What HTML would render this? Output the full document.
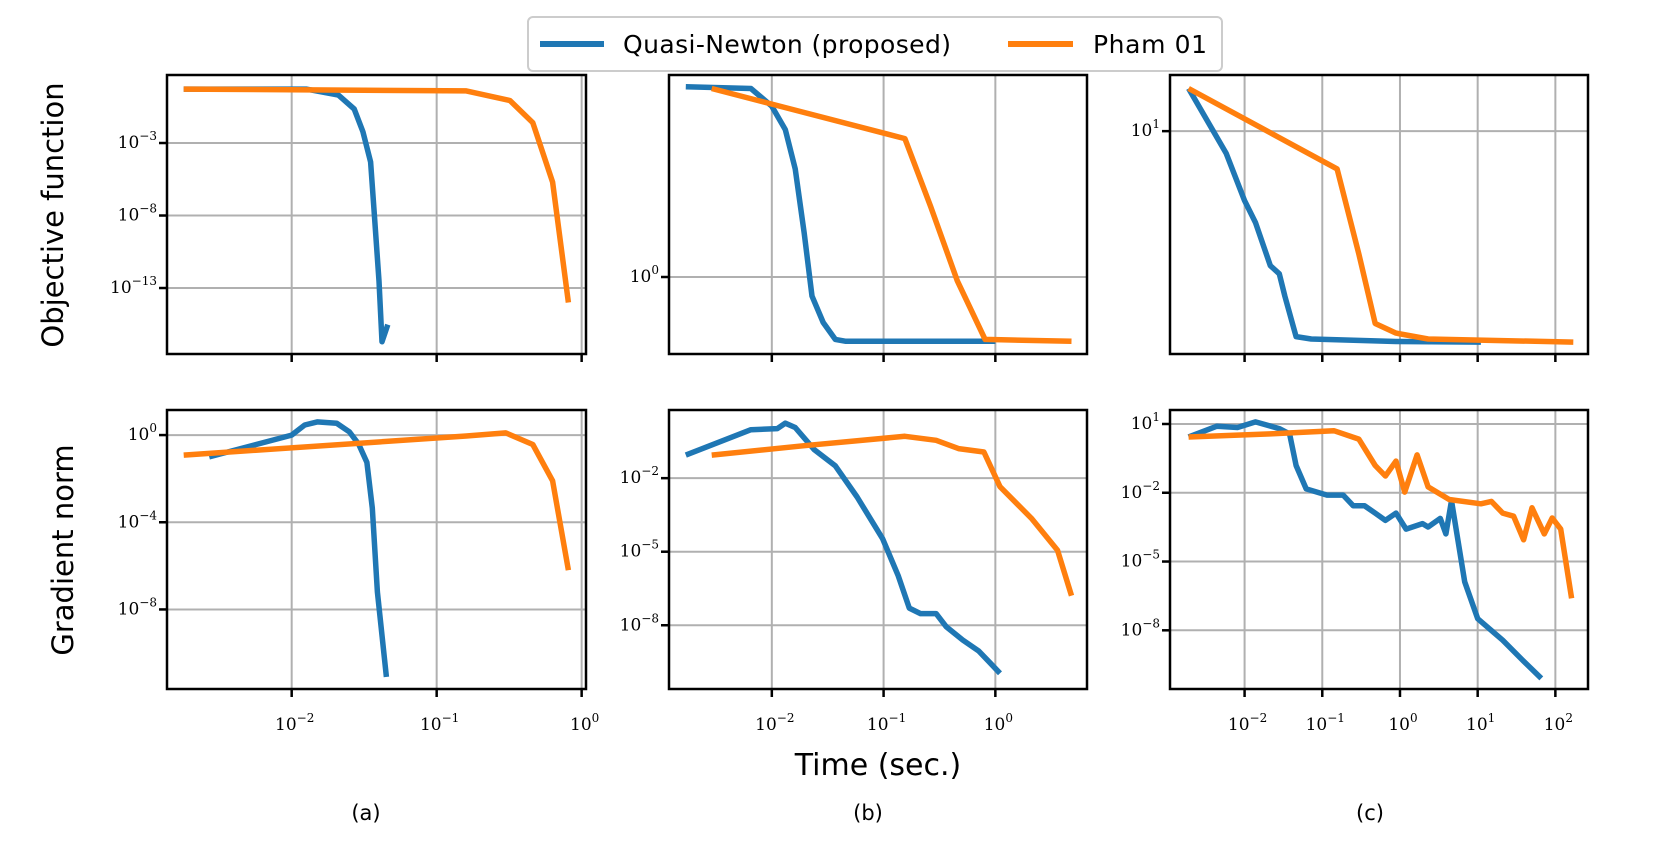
<!DOCTYPE html>
<html><head><meta charset="utf-8">
<style>
html,body{margin:0;padding:0;background:#fff;}
svg{display:block;}
.tk{font-family:"DejaVu Serif","Liberation Serif",serif;font-size:17px;fill:#000;}
.lab{font-family:"DejaVu Sans","Liberation Sans",sans-serif;fill:#000;}
</style></head>
<body>
<svg id="fig" width="1658" height="844" viewBox="0 0 1658 844" xmlns="http://www.w3.org/2000/svg">
<g>
<rect x="528" y="17" width="694" height="54" rx="5" fill="#fff" stroke="#cccccc" stroke-width="2"/>
<line x1="540" y1="44" x2="604" y2="44" stroke="#1f77b4" stroke-width="6"/>
<text class="lab" x="623" y="53" font-size="25" textLength="328">Quasi-Newton (proposed)</text>
<line x1="1008" y1="44" x2="1073" y2="44" stroke="#ff7f0e" stroke-width="6"/>
<text class="lab" x="1093" y="53" font-size="25" textLength="114">Pham 01</text>
</g>
<text class="lab" font-size="29" text-anchor="middle" transform="translate(63,215) rotate(-90)">Objective function</text>
<text class="lab" font-size="29" text-anchor="middle" transform="translate(73,550) rotate(-90)">Gradient norm</text>
<text class="lab" font-size="30" text-anchor="middle" x="878" y="775">Time (sec.)</text>
<text class="lab" font-size="21" text-anchor="middle" x="366" y="820">(a)</text>
<text class="lab" font-size="21" text-anchor="middle" x="868" y="820">(b)</text>
<text class="lab" font-size="21" text-anchor="middle" x="1370" y="820">(c)</text>
</svg>
<script>
// ---- data (time in sec., values) ----
const aTopBlueT = [0.0018,0.0126,0.021,0.027,0.031,0.035,0.037,0.040,0.042,0.046];
const aTopBlueV = [5.2,5.2,2,0.22,6e-3,5e-5,2e-8,3e-13,2e-17,3e-16];
const aTopOrT = [0.0018,0.16,0.32,0.46,0.63,0.81];
const aTopOrV = [5.2,3.9,0.85,0.025,2e-6,1e-14];
const aBotBlueT = [0.0027,0.010,0.0123,0.015,0.0204,0.025,0.029,0.033,0.036,0.039,0.045];
const aBotBlueV = [0.1,1,2.9,4,3.5,1.4,0.38,0.056,4.5e-4,6.3e-8,8e-12];
const aBotOrT = [0.0018,0.16,0.30,0.46,0.63,0.81];
const aBotOrV = [0.12,0.91,1.26,0.37,8e-3,6.3e-7];
const bTopBlueT = [0.0017,0.0065,0.010,0.0132,0.0162,0.0195,0.0229,0.0288,0.037,0.046,1.0];
const bTopBlueV = [117,112,72,40,15,3,0.62,0.32,0.21,0.2,0.2];
const bTopOrT = [0.0029,0.155,0.263,0.457,0.81,4.8];
const bTopOrV = [112,32,5.9,0.91,0.21,0.2];
const bBotBlueT = [0.0017,0.0065,0.0112,0.0132,0.0162,0.024,0.037,0.058,0.098,0.135,0.17,0.214,0.295,0.363,0.51,0.71,0.87,1.1];
const bBotBlueV = [0.087,0.95,1.05,1.74,1.17,0.145,0.032,1.7e-3,3.4e-5,1.05e-6,5e-8,3e-8,3e-8,8.7e-9,2.5e-9,8.9e-10,3.4e-10,1.1e-10];
const bBotOrT = [0.0029,0.0195,0.155,0.295,0.468,0.79,1.1,2.1,3.6,4.8];
const bBotOrV = [0.087,0.21,0.51,0.35,0.16,0.117,4.5e-3,2.3e-4,1.15e-5,1.6e-7];
const cTopBlueT = [0.0019,0.0058,0.010,0.0138,0.0214,0.028,0.033,0.046,0.072,0.89,11];
const cTopBlueV = [17.8,7.4,3.9,2.9,1.62,1.45,1.07,0.62,0.6,0.58,0.575];
const cTopOrT = [0.0019,0.155,0.295,0.48,0.89,2.3,170];
const cTopOrV = [17.8,6,1.9,0.74,0.65,0.6,0.575];
const cBotBlueT = [0.0019,0.0044,0.0081,0.0138,0.028,0.038,0.046,0.062,0.115,0.186,0.25,0.35,0.48,0.65,0.89,1.2,1.95,2.3,3.3,3.9,4.6,6.8,10,21,39,66];
const cBotBlueV = [2.7,8,7,12.3,6.3,3.7,0.155,0.0148,0.0079,0.0079,2.7e-3,2.7e-3,1.3e-3,6.2e-4,1.3e-3,2.6e-4,4.5e-4,3.2e-4,7.6e-4,1.6e-4,4.5e-3,1.3e-6,3.2e-8,3.7e-9,4.5e-10,8e-11];
const cBotOrT = [0.0019,0.0214,0.141,0.295,0.48,0.65,0.89,1.15,1.66,2.3,4.3,11,15,21,29,39,50,72,91,117,162];
const cBotOrV = [2.7,3.7,5.1,2.2,0.155,0.054,0.24,0.0107,0.45,0.018,5.1e-3,3.3e-3,4.2e-3,1.3e-3,9.5e-4,8.9e-5,2.2e-3,1.6e-4,7.9e-4,2.6e-4,2.5e-7];
const aXTicks = [-2,-1,0];
const bXTicks = [-2,-1,0];
const cXTicks = [-2,-1,0,1,2];
const aTopYTicks = [-3,-8,-13];
const aBotYTicks = [0,-4,-8];
const bTopYTicks = [0];
const bBotYTicks = [-2,-5,-8];
const cTopYTicks = [1];
const cBotYTicks = [1,-2,-5,-8];

const NS = "http://www.w3.org/2000/svg";
const svg = document.getElementById('fig');
function mk(tag, attrs, parent){
  const e = document.createElementNS(NS, tag);
  for (const k in attrs) e.setAttribute(k, attrs[k]);
  (parent||svg).appendChild(e); return e;
}
const COLS = [[167,586],[669,1087],[1170,1588]];
const ROWS = [[75,354],[410,689]];
const panels = [
 {id:'a-top', c:0, r:0, x:[-2.86,0.03], y:[-17.55,1.69], xt:aXTicks, yt:aTopYTicks, xl:false, s:[[aTopBlueT,aTopBlueV,'#1f77b4','quasi-newton'],[aTopOrT,aTopOrV,'#ff7f0e','pham01']]},
 {id:'a-bottom', c:0, r:1, x:[-2.86,0.03], y:[-11.65,1.15], xt:aXTicks, yt:aBotYTicks, xl:true, s:[[aBotBlueT,aBotBlueV,'#1f77b4','quasi-newton'],[aBotOrT,aBotOrV,'#ff7f0e','pham01']]},
 {id:'b-top', c:1, r:0, x:[-2.92,0.82], y:[-0.837,2.196], xt:bXTicks, yt:bTopYTicks, xl:false, s:[[bTopBlueT,bTopBlueV,'#1f77b4','quasi-newton'],[bTopOrT,bTopOrV,'#ff7f0e','pham01']]},
 {id:'b-bottom', c:1, r:1, x:[-2.92,0.82], y:[-10.6,0.78], xt:bXTicks, yt:bBotYTicks, xl:true, s:[[bBotBlueT,bBotBlueV,'#1f77b4','quasi-newton'],[bBotOrT,bBotOrV,'#ff7f0e','pham01']]},
 {id:'c-top', c:2, r:0, x:[-2.96,2.42], y:[-0.31,1.33], xt:cXTicks, yt:cTopYTicks, xl:false, s:[[cTopBlueT,cTopBlueV,'#1f77b4','quasi-newton'],[cTopOrT,cTopOrV,'#ff7f0e','pham01']]},
 {id:'c-bottom', c:2, r:1, x:[-2.96,2.42], y:[-10.56,1.61], xt:cXTicks, yt:cBotYTicks, xl:true, s:[[cBotBlueT,cBotBlueV,'#1f77b4','quasi-newton'],[cBotOrT,cBotOrV,'#ff7f0e','pham01']]}
];
function pow10Label(g, x, y, e, anchor){
  const t = mk('text', {class:'tk', x:x, y:y, 'text-anchor':anchor}, g);
  const a = document.createElementNS(NS,'tspan'); a.textContent='10'; t.appendChild(a);
  const b = document.createElementNS(NS,'tspan');
  b.setAttribute('dy','-8'); b.setAttribute('font-size','12');
  b.textContent = (e<0?'\u2212':'') + Math.abs(e); t.appendChild(b);
  return t;
}
panels.forEach(p=>{
  const [L,R] = COLS[p.c], [T,B] = ROWS[p.r];
  const sx = v => L + (Math.log10(v)-p.x[0])/(p.x[1]-p.x[0])*(R-L);
  const sy = v => B - (Math.log10(v)-p.y[0])/(p.y[1]-p.y[0])*(B-T);
  const g = mk('g', {});
  
  
  const grid = mk('g', {}, g);
  
  
  p.xt.forEach(e=>{
    const x = sx(Math.pow(10,e));
    mk('line', {x1:x, x2:x, y1:T, y2:B, stroke:'#b0b0b0', 'stroke-width':2}, grid);
    const tk = mk('line', {x1:x, x2:x, y1:B, y2:B+8, stroke:'#000', 'stroke-width':2.5}, g);
    
    
    if (p.xl){
      const lb = pow10Label(g, x+3, 730, e, 'middle');
      
      
    }
  });
  p.yt.forEach(e=>{
    const y = sy(Math.pow(10,e));
    mk('line', {x1:L, x2:R, y1:y, y2:y, stroke:'#b0b0b0', 'stroke-width':2}, grid);
    const tk = mk('line', {x1:L-8, x2:L, y1:y, y2:y, stroke:'#000', 'stroke-width':2.5}, g);
    
    
    const lb = pow10Label(g, L-10, y+5, e, 'end');
    
    
  });
  const clipId = 'clip-'+p.id;
  const cp = mk('clipPath', {id:clipId}, g);
  mk('rect', {x:L, y:T, width:R-L, height:B-T}, cp);
  p.s.forEach(s=>{
    const [ts, vs, col, nm] = s;
    const pts = ts.map((t,i)=> sx(t).toFixed(1)+','+sy(vs[i]).toFixed(1)).join(' ');
    const pl = mk('polyline', {points:pts, fill:'none', stroke:col, 'stroke-width':5.5, 'stroke-linejoin':'round', 'clip-path':'url(#'+clipId+')'}, g);
    
    
  });
  const fr = mk('rect', {x:L, y:T, width:R-L, height:B-T, fill:'none', stroke:'#000', 'stroke-width':2.5}, g);
  
  
});
</script>
</body></html>
